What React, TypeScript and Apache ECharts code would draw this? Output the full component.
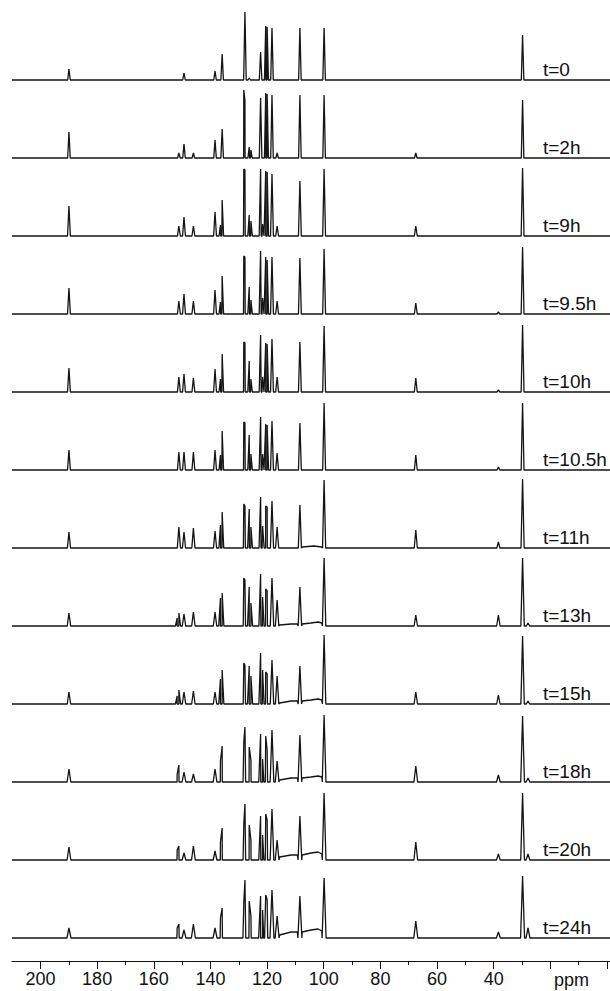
import React, { useEffect, useRef } from "react";
import * as echarts from "echarts";

// ---- data ----
const spectrumLabels = ["t=0", "t=2h", "t=9h", "t=9.5h", "t=10h", "t=10.5h", "t=11h", "t=13h", "t=15h", "t=18h", "t=20h", "t=24h"];

// chemical shifts (ppm) of the resolved lines
const peakPpm = [190.0, 152.0, 151.4, 149.6, 146.3, 138.7, 136.8, 136.2, 128.6, 128.2, 126.7, 126.1, 122.7, 122.0, 120.9, 120.4, 118.7, 116.9, 108.9, 100.4, 68.2, 39.2, 30.7, 28.8];

// peak heights (arbitrary intensity units) for every spectrum, aligned with peakPpm
const h_t0 = [11, 0, 0, 7, 0, 9, 0, 26, 0, 68, 2, 0, 28, 0, 54, 53, 52, 0, 52, 52, 0, 0, 45, 0];
const h_t2 = [26, 0, 5, 14, 5, 18, 0, 29, 68, 58, 11, 8, 60, 0, 65, 64, 63, 5, 63, 63, 5, 0, 58, 0];
const h_t9 = [30, 0, 10, 19, 10, 24, 11, 36, 67, 66, 21, 15, 67, 12, 65, 64, 62, 10, 55, 67, 10, 0, 68, 0];
const h_t9_5 = [26, 0, 13, 20, 13, 24, 12, 38, 58, 57, 27, 14, 63, 16, 57, 54, 57, 13, 56, 65, 11, 2, 67, 0];
const h_t10 = [24, 0, 15, 18, 14, 23, 13, 38, 50, 49, 31, 13, 57, 15, 49, 48, 53, 15, 50, 66, 14, 2, 67, 0];
const h_t10_5 = [20, 0, 18, 18, 18, 20, 15, 39, 48, 47, 35, 16, 53, 16, 46, 45, 49, 17, 47, 67, 15, 3, 67, 0];
const h_t11 = [16, 0, 21, 16, 20, 17, 23, 36, 44, 42, 39, 21, 51, 22, 42, 41, 47, 21, 43, 68, 18, 6, 69, 0];
const h_t13 = [13, 8, 13, 12, 14, 14, 28, 33, 48, 46, 39, 23, 52, 29, 37, 35, 48, 26, 39, 68, 11, 11, 68, 3];
const h_t15 = [12, 8, 14, 12, 13, 12, 25, 34, 41, 39, 38, 28, 51, 34, 32, 30, 44, 28, 38, 69, 12, 9, 68, 3];
const h_t18 = [13, 8, 17, 10, 8, 13, 21, 36, 40, 55, 35, 22, 48, 23, 46, 32, 52, 21, 47, 67, 16, 7, 66, 4];
const h_t20 = [13, 10, 14, 7, 14, 9, 18, 32, 36, 56, 35, 20, 44, 25, 46, 40, 51, 20, 44, 67, 18, 6, 67, 6];
const h_t24 = [10, 10, 14, 8, 14, 10, 20, 30, 35, 58, 37, 22, 42, 28, 43, 38, 48, 22, 42, 60, 17, 6, 62, 10];

// broad background humps (ppm, intensity) between the 117 and 100 ppm lines
const hump_none: number[][] = [];
const hump_t11 = [[108.1, 1], [104, 2], [101.2, 1]];
const hump_t13 = [[116.0, 1], [112, 2], [109.8, 2], [108.1, 2], [105, 3], [102.5, 4], [101.2, 3]];
const hump_t15 = [[116.0, 1], [112, 3], [109.8, 3], [108.1, 3], [105, 4], [102.5, 5], [101.2, 4]];
const hump_t18 = [[116.0, 2], [112, 4], [109.8, 4], [108.1, 4], [105, 5], [102.5, 6], [101.2, 5]];
const hump_t20 = [[116.0, 3], [112, 5], [109.8, 5], [108.1, 5], [105, 7], [102.5, 8], [101.2, 6]];
const hump_t24 = [[116.0, 3], [112, 6], [109.8, 6], [108.1, 6], [105, 8], [102.5, 9], [101.2, 7]];

const tickValues = [200, 180, 160, 140, 120, 100, 80, 60, 40];

const heightSets = [h_t0, h_t2, h_t9, h_t9_5, h_t10, h_t10_5, h_t11, h_t13, h_t15, h_t18, h_t20, h_t24];
const humpSets = [hump_none, hump_none, hump_none, hump_none, hump_none, hump_none, hump_t11, hump_t13, hump_t15, hump_t18, hump_t20, hump_t24];

// ---- drawing constants (layout/style) ----
const X_MIN = 0;
const X_MAX = 210;
const GRID_LEFT = 12;
const GRID_BOTTOM = 30;
const Y_MAX = 961;
const FIRST_BASE = 80; // pixel row of first baseline
const STEP = 78; // spacing between spectra (px)
const lineHalfWidth = [0.45, 0.45, 0.5, 0.5, 0.5, 0.5, 0.55, 0.6, 0.6, 0.65, 0.65, 0.7];
const FONT = '"Liberation Sans", Arial, sans-serif';

function buildSpectrum(h: number[], hump: number[][], w: number, offset: number) {
  const pts: number[][] = [[X_MAX, 0], [X_MIN, 0]];
  peakPpm.forEach((p, k) => {
    if (h[k] > 0) pts.push([p + w, 0], [p, h[k]], [p - w, 0]);
  });
  hump.forEach((pt) => pts.push([pt[0], pt[1]]));
  pts.sort((a, b) => b[0] - a[0]);
  return pts.map(([x, y]) => [x, y + offset]);
}

export default function App() {
  const ref = useRef<HTMLDivElement>(null);
  useEffect(() => {
    if (!ref.current) return;
    const chart = echarts.init(ref.current, undefined, { renderer: "svg" });
    const scale = (610 - GRID_LEFT) / (X_MAX - X_MIN);
    const grid1Left = GRID_LEFT + (X_MAX - 200) * scale;

    const series: any[] = spectrumLabels.map((name, i) => {
      const basePx = FIRST_BASE + STEP * i;
      const offset = Y_MAX - basePx;
      return {
        type: "line",
        name,
        xAxisIndex: 0,
        yAxisIndex: 0,
        showSymbol: false,
        symbol: "none",
        silent: true,
        clip: false,
        lineStyle: { color: "#151515", width: 1.3 },
        data: buildSpectrum(heightSets[i], humpSets[i], lineHalfWidth[i], offset),
      };
    });

    const graphics: any[] = spectrumLabels.map((name, i) => ({
      type: "text",
      x: 543,
      y: FIRST_BASE + STEP * i - 20,
      style: { text: name, font: `19px ${FONT}`, fill: "#111" },
    }));
    graphics.push({
      type: "text",
      x: 554,
      y: 971,
      style: { text: "ppm", font: `18px ${FONT}`, fill: "#111" },
    });

    chart.setOption({
      animation: false,
      backgroundColor: "#fff",
      grid: [
        { left: GRID_LEFT, right: 0, top: 0, bottom: GRID_BOTTOM },
        { left: grid1Left, right: 0, top: 0, bottom: GRID_BOTTOM },
      ],
      xAxis: [
        {
          type: "value",
          gridIndex: 0,
          inverse: true,
          min: X_MIN,
          max: X_MAX,
          axisLine: { show: true, lineStyle: { color: "#111", width: 1 } },
          axisTick: { show: false },
          axisLabel: { show: false },
          splitLine: { show: false },
        },
        {
          type: "value",
          gridIndex: 1,
          inverse: true,
          min: 0,
          max: 200,
          interval: 20,
          axisLine: { show: false },
          axisTick: { show: true, inside: false, length: 8, lineStyle: { color: "#111", width: 1 } },
          minorTick: { show: true, splitNumber: 2, length: 4, lineStyle: { color: "#111", width: 1 } },
          axisLabel: {
            show: true,
            margin: 9,
            fontSize: 18,
            fontFamily: FONT,
            color: "#111",
            formatter: (v: number) => (tickValues.indexOf(v) >= 0 ? String(v) : ""),
          },
          splitLine: { show: false },
          minorSplitLine: { show: false },
        },
      ],
      yAxis: [
        { type: "value", gridIndex: 0, min: 0, max: Y_MAX, show: false },
        { type: "value", gridIndex: 1, min: 0, max: Y_MAX, show: false },
      ],
      series,
      graphic: graphics,
    });
    return () => chart.dispose();
  }, []);
  return <div ref={ref} style={{ width: 610, height: 991, position: "absolute", left: 0, top: 0 }} />;
}
